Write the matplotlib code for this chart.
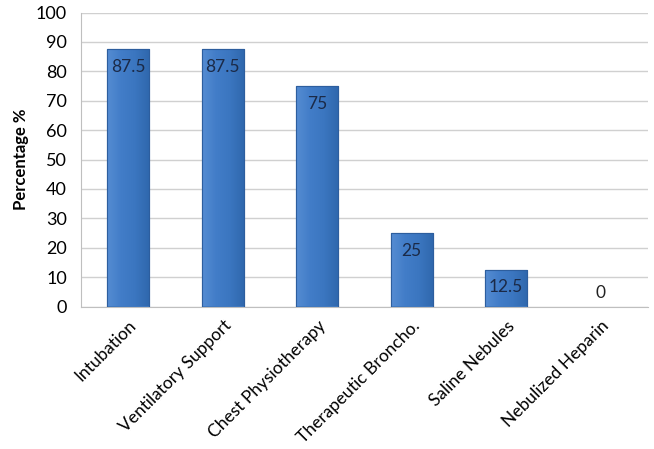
import numpy as np
import matplotlib.pyplot as plt
from matplotlib.colors import LinearSegmentedColormap

plt.rcParams['font.family'] = ['Lato', 'DejaVu Sans']

categories = ['Intubation', 'Ventilatory Support', 'Chest Physiotherapy',
              'Therapeutic Broncho.', 'Saline Nebules', 'Nebulized Heparin']
values = [87.5, 87.5, 75, 25, 12.5, 0]
value_labels = ['87.5', '87.5', '75', '25', '12.5', '0']

fig = plt.figure(figsize=(6.54, 4.49), dpi=100)
ax = fig.add_axes([81/654, 1-306.5/449, (648-81)/654, (306.5-12.5)/449])

x = np.arange(len(categories))
w = 0.44
cmap = LinearSegmentedColormap.from_list('g', ['#558CD2', '#427DC8', '#3B76C0', '#3068AE'])
grad = np.linspace(0, 1, 64).reshape(1, -1)

for xi, v in zip(x, values):
    if v <= 0:
        continue
    b = ax.bar(xi, v, width=w, color='#3C78C4', edgecolor='#2D5E9E', linewidth=0.8, zorder=2)[0]
    im = ax.imshow(grad, cmap=cmap, aspect='auto', zorder=2.5,
                   extent=[xi - w/2, xi + w/2, 0, v])
    im.set_clip_path(b)
    ax.bar(xi, v, width=w, fill=False, edgecolor='#2D5E9E', linewidth=0.8, zorder=3)

for xi, v, lab in zip(x, values, value_labels):
    if v > 0:
        ax.text(xi, v - 6, lab, ha='center', va='center', fontsize=12.5, color='#1B2A47', zorder=4)
    else:
        ax.text(xi, v + 4.7, lab, ha='center', va='center', fontsize=12.5, color='#222222', zorder=4)

ax.set_xlim(-0.5, len(categories) - 0.5)
ax.set_ylim(0, 100)
ax.set_yticks(np.arange(0, 101, 10))
ax.yaxis.grid(True, color='#D0D0D0', linewidth=1, zorder=0)
ax.set_axisbelow(True)
ax.set_xticks(x)
ax.set_xticklabels(categories, rotation=45, ha='right', rotation_mode='anchor', fontsize=12.5)
ax.tick_params(axis='x', length=0, pad=8)
ax.tick_params(axis='y', length=0, labelsize=13, pad=10)
for s in ['top', 'right']:
    ax.spines[s].set_visible(False)
for s in ['left', 'bottom']:
    ax.spines[s].set_color('#BFBFBF')
ax.set_ylabel('Percentage %', fontsize=12, fontweight='bold')
ax.yaxis.set_label_coords(-0.092, 0.5)

fig.savefig('out.png', dpi=100)
